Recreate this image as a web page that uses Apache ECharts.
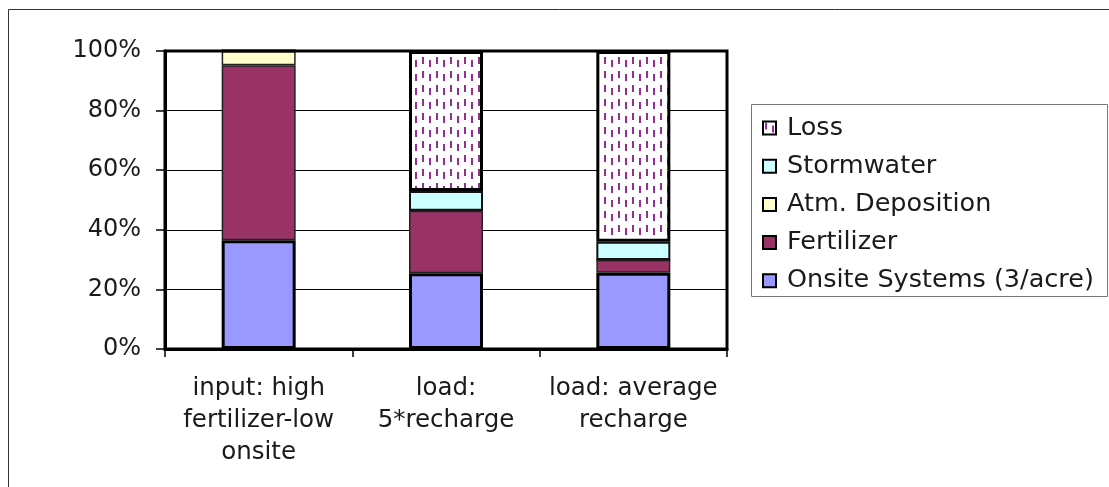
<!DOCTYPE html>
<html>
<head>
<meta charset="utf-8">
<script src="https://cdn.jsdelivr.net/npm/echarts@6/dist/echarts.min.js"></script>
<style>
html,body{margin:0;padding:0;background:#fff;}
#c{width:1109px;height:487px;}
</style>
</head>
<body>
<div id="c"></div>
<script>
var categories = ['input: high\nfertilizer-low\nonsite', 'load:\n5*recharge', 'load: average\nrecharge'];
var onsite = [36.5, 25.4, 25.6];
var fertilizer = [58.7, 21.0, 4.3];
var atmDeposition = [4.8, 0, 0];
var stormwater = [0, 6.6, 6.1];
var loss = [0, 47.0, 64.0];
var yTicks = [0, 20, 40, 60, 80, 100];

// Dashed vertical pattern for "Loss"
var tile = document.createElement('canvas');
tile.width = 14; tile.height = 14;
var tc = tile.getContext('2d');
tc.fillStyle = '#ffffff';
tc.fillRect(0, 0, 14, 14);
tc.fillStyle = '#932f93';
tc.fillRect(2, 1, 2, 7);
tc.fillRect(9, 4, 2, 7);
var lossPattern = { image: tile, repeat: 'repeat' };

var FONT = 'DejaVu Sans';
var chart = echarts.init(document.getElementById('c'), null, { renderer: 'canvas' });

function mk(name, data, color, bw, bc) {
  return {
    name: name, type: 'bar', stack: 'total', data: data, barWidth: 74,
    itemStyle: { color: color, borderColor: bc || '#000', borderWidth: bw },
    emphasis: { disabled: true }
  };
}

chart.setOption({
  animation: false,
  backgroundColor: '#fff',
  graphic: [
    { type: 'rect', shape: { x: 8.5, y: 9.5, width: 1120, height: 500 }, style: { fill: 'none', stroke: '#333', lineWidth: 1 }, z: 0 },
    { type: 'rect', shape: { x: 751.5, y: 104.5, width: 356, height: 192 }, style: { fill: 'none', stroke: '#777', lineWidth: 1 }, z: 0 }
  ],
  grid: { left: 165, top: 51, right: 382, bottom: 138, show: true, borderColor: '#000', borderWidth: 3, backgroundColor: 'transparent' },
  legend: {
    orient: 'vertical', left: 757, top: 110,
    itemWidth: 13, itemHeight: 13, itemGap: 12.2,
    icon: 'rect',
    itemStyle: { borderColor: '#000', borderWidth: 2 },
    textStyle: { fontFamily: FONT, fontSize: 25.5, color: '#1a1a1a', lineHeight: 26, padding: [0, 0, 0, 6] },
    data: ['Loss', 'Stormwater', 'Atm. Deposition', 'Fertilizer', 'Onsite Systems (3/acre)']
  },
  xAxis: {
    type: 'category', data: categories, boundaryGap: true,
    axisLine: { lineStyle: { color: '#000', width: 3 } },
    axisTick: { show: true, length: 8, lineStyle: { color: '#000', width: 1.5 } },
    axisLabel: { fontFamily: FONT, fontSize: 24.5, color: '#1a1a1a', lineHeight: 32, margin: 24, interval: 0 }
  },
  yAxis: {
    type: 'value', min: 0, max: 100, interval: 20,
    axisLine: { show: true, lineStyle: { color: '#000', width: 3 } },
    axisTick: { show: true, length: 9, lineStyle: { color: '#000', width: 1.5 } },
    axisLabel: { fontFamily: FONT, fontSize: 24, color: '#1a1a1a', margin: 24, formatter: '{value}%' },
    splitLine: { show: true, lineStyle: { color: '#000', width: 1 } }
  },
  series: [
    mk('Onsite Systems (3/acre)', onsite, '#9999ff', 3),
    mk('Fertilizer', fertilizer, '#993366', 1.5, '#222'),
    mk('Atm. Deposition', atmDeposition, '#ffffcc', 1.5, '#222'),
    mk('Stormwater', stormwater, '#ccffff', 2, '#111'),
    mk('Loss', loss, lossPattern, 3)
  ]
});
</script>
</body>
</html>
